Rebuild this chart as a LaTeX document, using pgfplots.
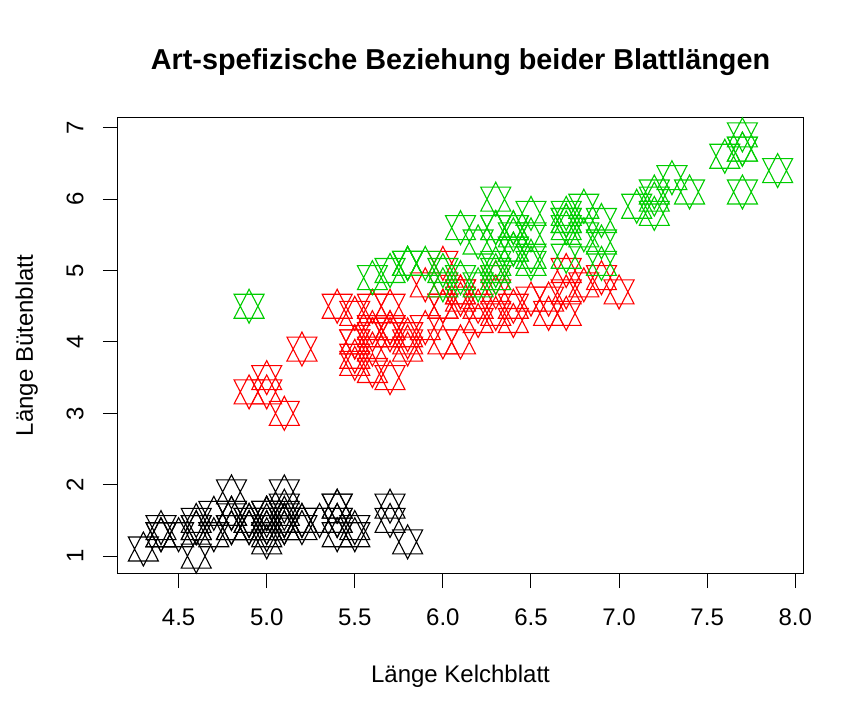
\documentclass[border=0pt]{standalone}
\usepackage{pgfplots}
\pgfplotsset{compat=1.18}
\usepackage{fontspec}
\setmainfont{Liberation Sans}
\definecolor{rred}{HTML}{FF0000}
\definecolor{rgreen}{HTML}{00CD00}
\pgfdeclareplotmark{david}{%
  \pgfpathmoveto{\pgfpoint{0bp}{17bp}}%
  \pgfpathlineto{\pgfpoint{-15bp}{-12bp}}%
  \pgfpathlineto{\pgfpoint{15bp}{-12bp}}%
  \pgfpathclose
  \pgfpathmoveto{\pgfpoint{0bp}{-17bp}}%
  \pgfpathlineto{\pgfpoint{-15bp}{12bp}}%
  \pgfpathlineto{\pgfpoint{15bp}{12bp}}%
  \pgfpathclose
  \pgfusepathqstroke}
\pgfplotstableread{
x y
5.1 1.4
4.9 1.4
4.7 1.3
4.6 1.5
5.0 1.4
5.4 1.7
4.6 1.4
5.0 1.5
4.4 1.4
4.9 1.5
5.4 1.5
4.8 1.6
4.8 1.4
4.3 1.1
5.8 1.2
5.7 1.5
5.4 1.3
5.1 1.4
5.7 1.7
5.1 1.5
5.4 1.7
5.1 1.5
4.6 1.0
5.1 1.7
4.8 1.9
5.0 1.6
5.0 1.6
5.2 1.5
5.2 1.4
4.7 1.6
4.8 1.6
5.4 1.5
5.2 1.5
5.5 1.4
4.9 1.5
5.0 1.2
5.5 1.3
4.9 1.4
4.4 1.3
5.1 1.5
5.0 1.3
4.5 1.3
4.4 1.3
5.0 1.6
5.1 1.9
4.8 1.4
5.1 1.6
4.6 1.4
5.3 1.5
5.0 1.4
}\setosa
\pgfplotstableread{
x y
7.0 4.7
6.4 4.5
6.9 4.9
5.5 4.0
6.5 4.6
5.7 4.5
6.3 4.7
4.9 3.3
6.6 4.6
5.2 3.9
5.0 3.5
5.9 4.2
6.0 4.0
6.1 4.7
5.6 3.6
6.7 4.4
5.6 4.5
5.8 4.1
6.2 4.5
5.6 3.9
5.9 4.8
6.1 4.0
6.3 4.9
6.1 4.7
6.4 4.3
6.6 4.4
6.8 4.8
6.7 5.0
6.0 4.5
5.7 3.5
5.5 3.8
5.5 3.7
5.8 3.9
6.0 5.1
5.4 4.5
6.0 4.5
6.7 4.7
6.3 4.4
5.6 4.1
5.5 4.0
5.5 4.4
6.1 4.6
5.8 4.0
5.0 3.3
5.6 4.2
5.7 4.2
5.7 4.2
6.2 4.3
5.1 3.0
5.7 4.1
}\versicolor
\pgfplotstableread{
x y
6.3 6.0
5.8 5.1
7.1 5.9
6.3 5.6
6.5 5.8
7.6 6.6
4.9 4.5
7.3 6.3
6.7 5.8
7.2 6.1
6.5 5.1
6.4 5.3
6.8 5.5
5.7 5.0
5.8 5.1
6.4 5.3
6.5 5.5
7.7 6.7
7.7 6.9
6.0 5.0
6.9 5.7
5.6 4.9
7.7 6.7
6.3 4.9
6.7 5.7
7.2 6.0
6.2 4.8
6.1 4.9
6.4 5.6
7.2 5.8
7.4 6.1
7.9 6.4
6.4 5.6
6.3 5.1
6.1 5.6
7.7 6.1
6.3 5.6
6.4 5.5
6.0 4.8
6.9 5.4
6.7 5.6
6.9 5.1
5.8 5.1
6.8 5.9
6.7 5.7
6.7 5.2
6.3 5.0
6.5 5.2
6.2 5.4
5.9 5.1
}\virginica
\begin{document}
\begin{tikzpicture}
\path[use as bounding box] (-118bp,-147bp) rectangle (746bp,573bp);
\begin{axis}[
  at={(0,0)}, anchor=south west,
  scale only axis, width=685bp, height=455bp,
  xmin=4.156, xmax=8.044, ymin=0.764, ymax=7.136,
  axis line style={line width=1bp},
  xtick={4.5,5.0,5.5,6.0,6.5,7.0,7.5,8.0},
  ytick={1,2,3,4,5,6,7},
  xtick pos=bottom, ytick pos=left,
  tick align=outside,
  major tick length=15bp,
  every tick/.style={line width=1bp, black},
  xticklabel={\pgfmathprintnumber[fixed,fixed zerofill,precision=1]{\tick}},
  yticklabel={\pgfmathprintnumber{\tick}},
  /pgf/number format/assume math mode=true,
  every tick label/.append style={font=\fontsize{24bp}{28bp}\selectfont},
  xticklabel style={anchor=base, yshift=-37bp},
  yticklabel style={anchor=center, xshift=-28bp, rotate=90},
  clip=false,
  title={\bfseries Art-spefizische Beziehung beider Blattlängen},
  every axis title/.style={at={(axis description cs:0.5,1.1055)}, anchor=base, font=\fontsize{28.8bp}{34bp}\selectfont},
  xlabel={Länge Kelchblatt},
  every axis x label/.style={at={(axis description cs:0.5,-0.2396)}, anchor=base, font=\fontsize{24bp}{28bp}\selectfont},
  ylabel={Länge Bütenblatt},
  every axis y label/.style={at={(axis description cs:-0.1241,0.5)}, anchor=base, rotate=90, font=\fontsize{24bp}{28bp}\selectfont},
]
\addplot[only marks, mark=david, mark options={black, line width=1.1bp}] table[x=x,y=y] {\setosa};
\addplot[only marks, mark=david, mark options={rred, line width=1.1bp}] table[x=x,y=y] {\versicolor};
\addplot[only marks, mark=david, mark options={rgreen, line width=1.1bp}] table[x=x,y=y] {\virginica};
\end{axis}
\end{tikzpicture}
\end{document}
